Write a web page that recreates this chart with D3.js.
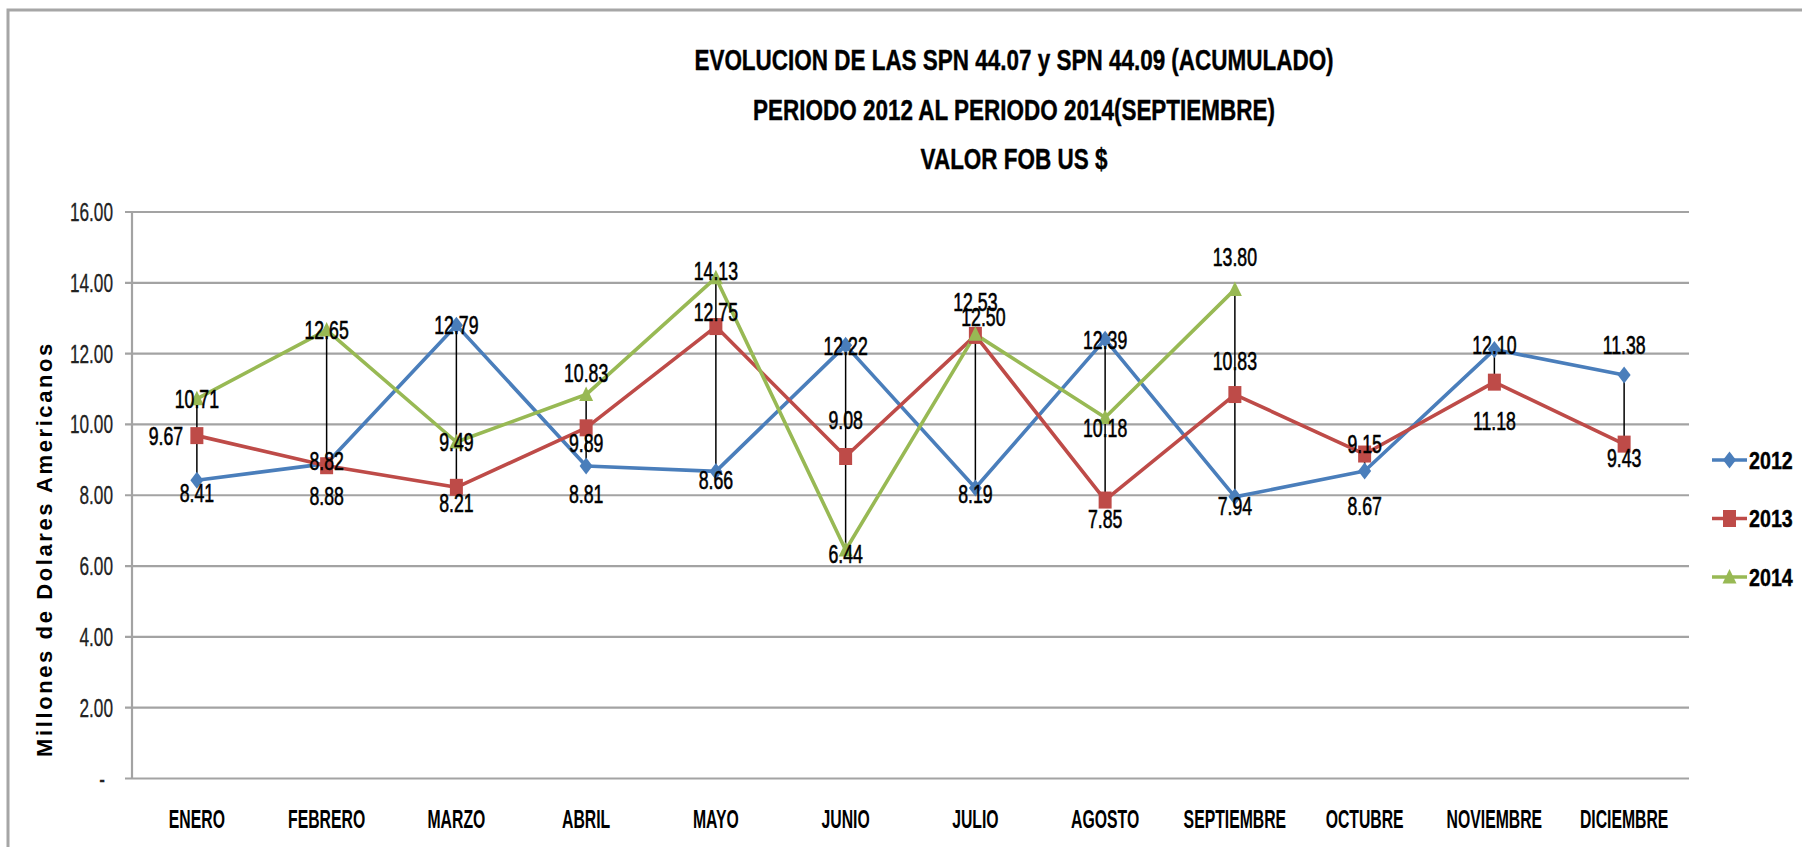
<!DOCTYPE html>
<html>
<head>
<meta charset="utf-8">
<script src="https://cdn.jsdelivr.net/npm/d3@7"></script>
<style>
  body { margin: 0; background: #fff; }
  svg { display: block; }
</style>
</head>
<body>
<svg id="chart"></svg>
<script>
var months = ["ENERO", "FEBRERO", "MARZO", "ABRIL", "MAYO", "JUNIO", "JULIO",
              "AGOSTO", "SEPTIEMBRE", "OCTUBRE", "NOVIEMBRE", "DICIEMBRE"];
var years = ["2012", "2013", "2014"];
var v2012 = [8.41, 8.88, 12.79, 8.81, 8.66, 12.22, 8.19, 12.39, 7.94, 8.67, 12.10, 11.38];
var v2013 = [9.67, 8.82, 8.21, 9.89, 12.75, 9.08, 12.50, 7.85, 10.83, 9.15, 11.18, 9.43];
var v2014 = [10.71, 12.65, 9.49, 10.83, 14.13, 6.44, 12.53, 10.18, 13.80];
var yTicks = [0, 2, 4, 6, 8, 10, 12, 14, 16];
var titleLines = ["EVOLUCION DE LAS SPN 44.07 y SPN 44.09 (ACUMULADO)",
                  "PERIODO 2012 AL PERIODO 2014(SEPTIEMBRE)",
                  "VALOR FOB US $"];
var yTitle = "Millones de Dolares Americanos";

// hand placed data labels (pixel nudges, like the moved labels in the original)
var dx2012 = [0, 0, 0, 0, 0, 0, 0, 0, 0, 0, 0, 0];
var dy2012 = [12, 32, 0, 28, 8, 0, 6, 0, 9, 35, -5, -30];
var dx2013 = [-31, 0, 0, 0, 0, 0, 8, 0, 0, 0, 0, 0];
var dy2013 = [0, -5, 15, 15, -15, -37, -19, 19, -34, -10, 39, 14];
var dx2014 = [0, 0, 0, 0, 0, 0, 0, 0, 0];
var dy2014 = [0, 0, 0, -22, -7, 4, -33, 10, -33];

var width = 1802,
    height = 847;
var plot = {left: 132, right: 1689, top: 211.5, bottom: 778};

var NARROW = '"Liberation Sans Narrow", "Arial Narrow", "Liberation Sans", sans-serif';

var svg = d3.select("#chart")
    .attr("width", width)
    .attr("height", height)
    .style("font-family", NARROW);

// normalise horizontal scale in case the narrow face is missing
var probe = svg.append("text").attr("font-size", 100).text("0000");
var norm = 182.4 / probe.node().getComputedTextLength();
probe.remove();

function squeeze(sx) {
    return "scale(" + (sx * norm) + ",1)";
}

var x = d3.scaleBand().domain(months).range([plot.left, plot.right]);
var y = d3.scaleLinear().domain([0, 16]).range([plot.bottom, plot.top]);
function cx(i) { return x(months[i]) + x.bandwidth() / 2; }

var series = [
    {name: years[0], values: v2012, color: "#4A7EBB", marker: "diamond", dx: dx2012, dy: dy2012},
    {name: years[1], values: v2013, color: "#BE4B48", marker: "square", dx: dx2013, dy: dy2013},
    {name: years[2], values: v2014, color: "#98B954", marker: "triangle", dx: dx2014, dy: dy2014}
];

function markerPath(kind) {
    if (kind === "diamond") return "M0,-8.5L6.5,0L0,8.5L-6.5,0Z";
    if (kind === "square") return "M-6.5,-8.5H6.5V8.5H-6.5Z";
    return "M0,-8L7,6.5H-7Z";
}

// outer frame
svg.append("rect")
    .attr("x", 8).attr("y", 10)
    .attr("width", width).attr("height", height)
    .attr("fill", "none")
    .attr("stroke", "#a6a6a6")
    .attr("stroke-width", 3);

// title
svg.append("g").selectAll("text")
    .data(titleLines)
    .join("text")
    .attr("transform", function(d, i) { return "translate(1014," + (70 + i * 49.5) + ") " + squeeze(0.945); })
    .attr("text-anchor", "middle")
    .attr("font-size", 29)
    .attr("font-weight", "bold")
    .attr("fill", "#000")
    .attr("stroke", "#000")
    .attr("stroke-width", 0.4)
    .text(function(d) { return d; });

// y axis with gridlines
var yAxis = svg.append("g")
    .attr("transform", "translate(" + plot.left + ",0)")
    .call(d3.axisLeft(y).tickValues(yTicks).tickSize(0)
        .tickFormat(function(d) { return d === 0 ? "-" : d3.format(".2f")(d); }));
yAxis.select(".domain").remove();
yAxis.selectAll(".tick line")
    .attr("x1", -7)
    .attr("x2", plot.right - plot.left)
    .attr("stroke", "#a3a3a3")
    .attr("stroke-width", 2.2);
yAxis.selectAll(".tick text")
    .attr("x", 0)
    .attr("dy", null)
    .attr("y", 9)
    .attr("font-size", 25)
    .attr("font-family", NARROW)
    .attr("fill", "#222")
    .attr("stroke", "#222")
    .attr("stroke-width", 0.3)
    .attr("text-anchor", "end")
    .attr("transform", function(d) { return "translate(" + (d === 0 ? -27 : -19) + ",0) " + squeeze(0.84); });

svg.append("line")
    .attr("x1", plot.left).attr("x2", plot.left)
    .attr("y1", plot.top).attr("y2", plot.bottom + 1)
    .attr("stroke", "#a3a3a3")
    .attr("stroke-width", 2.2);

// x axis labels
var xAxis = svg.append("g")
    .attr("transform", "translate(0," + plot.bottom + ")")
    .call(d3.axisBottom(x).tickSize(0).tickPadding(0));
xAxis.select(".domain").remove();
xAxis.selectAll(".tick text")
    .attr("y", 0)
    .attr("dy", null)
    .attr("font-size", 25)
    .attr("font-weight", "bold")
    .attr("font-family", NARROW)
    .attr("fill", "#000")
    .attr("transform", "translate(0,50) " + squeeze(0.77));

// y axis title
svg.append("text")
    .attr("transform", "translate(52,549) rotate(-90)")
    .attr("text-anchor", "middle")
    .attr("font-family", '"Liberation Sans", Arial, sans-serif')
    .attr("font-size", 22)
    .attr("font-weight", "bold")
    .attr("letter-spacing", 2.6)
    .attr("fill", "#000")
    .text(yTitle);

// series lines
var line = d3.line()
    .x(function(d, i) { return cx(i); })
    .y(function(d) { return y(d); });

svg.append("g").selectAll("path")
    .data(series)
    .join("path")
    .attr("d", function(s) { return line(s.values); })
    .attr("fill", "none")
    .attr("stroke", function(s) { return s.color; })
    .attr("stroke-width", 3.6)
    .attr("stroke-linejoin", "round");

// high-low lines
svg.append("g").selectAll("line")
    .data(months)
    .join("line")
    .each(function(m, i) {
        var vals = series.map(function(s) { return s.values[i]; })
            .filter(function(v) { return v !== undefined; });
        d3.select(this)
            .attr("x1", cx(i)).attr("x2", cx(i))
            .attr("y1", y(d3.max(vals))).attr("y2", y(d3.min(vals)));
    })
    .attr("stroke", "#000")
    .attr("stroke-width", 1.5);

// markers
series.forEach(function(s) {
    svg.append("g").selectAll("path")
        .data(s.values)
        .join("path")
        .attr("transform", function(d, i) { return "translate(" + cx(i) + "," + y(d) + ")"; })
        .attr("d", markerPath(s.marker))
        .attr("fill", s.color);
});

// data labels
series.forEach(function(s) {
    svg.append("g").selectAll("text")
        .data(s.values)
        .join("text")
        .attr("transform", function(d, i) {
            return "translate(" + (cx(i) + s.dx[i]) + "," + (y(d) + s.dy[i] + 9.3) + ") " + squeeze(0.83);
        })
        .attr("text-anchor", "middle")
        .attr("font-size", 26)
        .attr("fill", "#000")
        .attr("stroke", "#000")
        .attr("stroke-width", 0.6)
        .text(function(d) { return d3.format(".2f")(d); });
});

// legend
var legend = svg.append("g").selectAll("g")
    .data(series)
    .join("g")
    .attr("transform", function(s, i) { return "translate(1712," + (460 + i * 58.5) + ")"; });
legend.append("line")
    .attr("x1", 0).attr("x2", 35)
    .attr("stroke", function(s) { return s.color; })
    .attr("stroke-width", 3.6);
legend.append("path")
    .attr("transform", "translate(17.5,0)")
    .attr("d", function(s) { return markerPath(s.marker); })
    .attr("fill", function(s) { return s.color; });
legend.append("text")
    .attr("transform", "translate(37,8.5) " + squeeze(1))
    .attr("font-size", 24)
    .attr("font-weight", "bold")
    .attr("fill", "#000")
    .attr("stroke", "#000")
    .attr("stroke-width", 0.4)
    .text(function(s) { return s.name; });
</script>
</body>
</html>
